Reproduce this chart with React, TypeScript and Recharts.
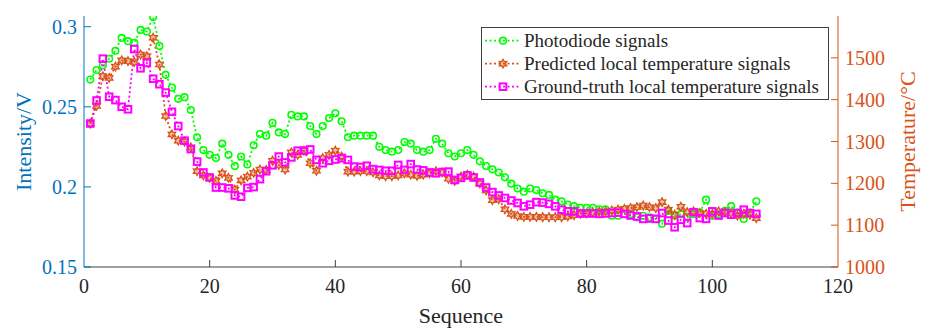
import React from 'react';
import { LineChart, Line, XAxis, YAxis } from 'recharts';

const sequence = [
  1, 2, 3, 4, 5, 6, 7, 8, 9, 10, 11, 12, 13, 14, 15, 16, 17, 18, 19, 20,
  21, 22, 23, 24, 25, 26, 27, 28, 29, 30, 31, 32, 33, 34, 35, 36, 37, 38, 39, 40,
  41, 42, 43, 44, 45, 46, 47, 48, 49, 50, 51, 52, 53, 54, 55, 56, 57, 58, 59, 60,
  61, 62, 63, 64, 65, 66, 67, 68, 69, 70, 71, 72, 73, 74, 75, 76, 77, 78, 79, 80,
  81, 82, 83, 84, 85, 86, 87, 88, 89, 90, 91, 92, 93, 94, 95, 96, 97, 98, 99, 100,
  101, 102, 103, 104, 105, 106, 107,
];

// Photodiode intensity (V), left axis
const photodiode = [
  0.267, 0.273, 0.276, 0.280, 0.285, 0.293, 0.291, 0.290, 0.298, 0.297,
  0.306, 0.288, 0.270, 0.262, 0.255, 0.256, 0.248, 0.231, 0.223, 0.220,
  0.218, 0.227, 0.220, 0.213, 0.219, 0.214, 0.226, 0.233, 0.232, 0.240,
  0.234, 0.233, 0.245, 0.244, 0.244, 0.238, 0.233, 0.238, 0.243, 0.246,
  0.241, 0.231, 0.232, 0.232, 0.232, 0.232, 0.225, 0.223, 0.222, 0.223,
  0.228, 0.227, 0.223, 0.222, 0.223, 0.230, 0.227, 0.221, 0.219, 0.221,
  0.223, 0.220, 0.216, 0.213, 0.211, 0.209, 0.206, 0.202, 0.199, 0.197,
  0.199, 0.198, 0.196, 0.195, 0.192, 0.191, 0.189, 0.188, 0.187, 0.187,
  0.187, 0.186, 0.186, 0.182, 0.182, 0.183, 0.183, 0.181, 0.182, 0.181,
  0.180, 0.177, 0.185, 0.182, 0.183, 0.181, 0.183, 0.184, 0.192, 0.182,
  0.183, 0.185, 0.188, 0.184, 0.180, 0.184, 0.191,
];

// Predicted local temperature (°C), right axis
const predicted = [
  1343, 1385, 1456, 1452, 1479, 1494, 1492, 1490, 1508, 1504,
  1548, 1484, 1361, 1317, 1302, 1300, 1286, 1229, 1219, 1213,
  1206, 1224, 1213, 1185, 1207, 1216, 1225, 1233, 1232, 1254,
  1244, 1233, 1274, 1268, 1278, 1248, 1230, 1260, 1268, 1278,
  1264, 1228, 1228, 1229, 1229, 1226, 1219, 1217, 1217, 1219,
  1224, 1221, 1218, 1221, 1224, 1229, 1226, 1211, 1206, 1216,
  1221, 1216, 1200, 1183, 1160, 1162, 1138, 1127, 1122, 1120,
  1120, 1120, 1119, 1119, 1119, 1119, 1121, 1124, 1127, 1128,
  1130, 1132, 1133, 1135, 1137, 1139, 1141, 1143, 1147, 1143,
  1141, 1155, 1137, 1125, 1144, 1131, 1133, 1129, 1127, 1127,
  1133, 1131, 1129, 1123, 1127, 1125, 1117,
];

// Ground-truth local temperature (°C), right axis
const groundTruth = [
  1343, 1398, 1498, 1407, 1399, 1383, 1377, 1521, 1475, 1488,
  1450, 1437, 1417, 1371, 1337, 1302, 1282, 1252, 1226, 1214,
  1190, 1190, 1188, 1171, 1168, 1189, 1191, 1210, 1229, 1243,
  1264, 1250, 1262, 1278, 1278, 1281, 1256, 1248, 1254, 1257,
  1260, 1256, 1240, 1239, 1242, 1234, 1232, 1230, 1230, 1244,
  1232, 1246, 1233, 1231, 1226, 1224, 1227, 1228, 1208, 1213,
  1219, 1214, 1202, 1190, 1179, 1171, 1165, 1159, 1153, 1145,
  1149, 1155, 1154, 1151, 1145, 1137, 1133, 1133, 1128, 1128,
  1128, 1127, 1128, 1129, 1130, 1127, 1123, 1121, 1115, 1116,
  1115, 1129, 1111, 1095, 1113, 1105, 1131, 1117, 1115, 1133,
  1123, 1129, 1125, 1129, 1137, 1129, 1127,
];

const xTicks = [0, 20, 40, 60, 80, 100, 120];
const intensityTicks = [0.15, 0.2, 0.25, 0.3];
const temperatureTicks = [1000, 1100, 1200, 1300, 1400, 1500];
const seriesNames = [
  'Photodiode signals',
  'Predicted local temperature signals',
  'Ground-truth local temperature signals',
];
const xLabel = 'Sequence';
const leftLabel = 'Intensity/V';
const rightLabel = 'Temperature/°C';

const data = sequence.map((s, i) => ({
  seq: s,
  pd: photodiode[i],
  pred: predicted[i],
  gt: groundTruth[i],
}));

const FONT = "'Liberation Serif', 'Times New Roman', 'DejaVu Serif', serif";
const BLUE = '#0072BD';
const ORANGE = '#D95319';
const GREEN = '#00FF00';
const MAGENTA = '#FF00FF';
const AXIS = '#404040';
const TEXT = '#262626';

const W = 928;
const H = 330;

const txtStyle = { fontFamily: FONT };

function circleMarker(cx: number, cy: number, key?: any) {
  return <circle key={key} cx={cx} cy={cy} r={3.3} fill="none" stroke={GREEN} strokeWidth={1.6} />;
}
function hexMarker(cx: number, cy: number, key?: any) {
  const pts: string[] = [];
  for (let k = 0; k < 12; k++) {
    const a = ((-90 + k * 30) * Math.PI) / 180;
    const r = k % 2 === 0 ? 4.3 : 2.4;
    pts.push(`${cx + r * Math.cos(a)},${cy + r * Math.sin(a)}`);
  }
  return (
    <polygon key={key} points={pts.join(' ')} fill={ORANGE} fillOpacity={0.35} stroke={ORANGE} strokeWidth={1.3} />
  );
}
function squareMarker(cx: number, cy: number, key?: any) {
  return (
    <rect key={key} x={cx - 3.3} y={cy - 3.3} width={6.6} height={6.6} fill="none" stroke={MAGENTA} strokeWidth={2} />
  );
}

const makeDot = (fn: (cx: number, cy: number, key?: any) => any) => (p: any) => {
  if (p.cx == null || p.cy == null) return <g key={`e-${p.index}`} />;
  return fn(p.cx, p.cy, `d-${p.index}`);
};

const BottomTick = (p: any) => {
  const { x, y, payload } = p;
  const edge = payload.value === 0 || payload.value === 120;
  return (
    <g>
      {!edge && <line x1={x} y1={y} x2={x} y2={y - 7} stroke={AXIS} strokeWidth={1} />}
      <text x={x} y={y + 26} textAnchor="middle" fontSize={20} fill={TEXT} style={txtStyle}>
        {payload.value}
      </text>
    </g>
  );
};

const TopTick = (p: any) => {
  const { x, y, payload } = p;
  const edge = payload.value === 0 || payload.value === 120;
  if (edge) return <g />;
  return <line x1={x} y1={y} x2={x} y2={y + 7} stroke={AXIS} strokeWidth={1} />;
};

const LeftTick = (p: any) => {
  const { x, y, payload } = p;
  return (
    <g>
      <line x1={x} y1={y} x2={x + 7} y2={y} stroke={BLUE} strokeWidth={1} />
      <text x={x - 7} y={y} dy="0.35em" textAnchor="end" fontSize={20} fill={BLUE} style={txtStyle}>
        {String(payload.value)}
      </text>
    </g>
  );
};

const RightTick = (p: any) => {
  const { x, y, payload } = p;
  return (
    <g>
      <line x1={x} y1={y} x2={x - 7} y2={y} stroke={ORANGE} strokeWidth={1} />
      <text x={x + 7} y={y} dy="0.35em" textAnchor="start" fontSize={20} fill={ORANGE} style={txtStyle}>
        {String(payload.value)}
      </text>
    </g>
  );
};

const leftAxisLabel = (props: any) => {
  const vb = props.viewBox || {};
  const cx = vb.x + 23;
  const cy = vb.y + vb.height / 2;
  return (
    <text x={cx} y={cy} transform={`rotate(-90 ${cx} ${cy})`} textAnchor="middle" dy="0.35em" fontSize={22} fill={BLUE} style={txtStyle}>
      {leftLabel}
    </text>
  );
};

const rightAxisLabel = (props: any) => {
  const vb = props.viewBox || {};
  const cx = vb.x + 69;
  const cy = vb.y + vb.height / 2;
  return (
    <text x={cx} y={cy} transform={`rotate(-90 ${cx} ${cy})`} textAnchor="middle" dy="0.35em" fontSize={22} fill={ORANGE} style={txtStyle}>
      {rightLabel}
    </text>
  );
};

const bottomAxisLabel = (props: any) => {
  const vb = props.viewBox || {};
  const cx = vb.x + vb.width / 2;
  const cy = vb.y + 48;
  return (
    <text x={cx} y={cy} textAnchor="middle" dy="0.35em" fontSize={22} fill={TEXT} style={txtStyle}>
      {xLabel}
    </text>
  );
};

const legendMarkers = [circleMarker, hexMarker, squareMarker];
const legendColors = [GREEN, ORANGE, MAGENTA];

const LegendBox = () => (
  <svg
    width={349}
    height={74}
    style={{ position: 'absolute', left: 481, top: 27, overflow: 'visible' }}
  >
    <rect x={0.5} y={0.5} width={347} height={72} fill="#ffffff" stroke={AXIS} strokeWidth={1} />
    {seriesNames.map((name, i) => {
      const cy = 13.7 + i * 23;
      return (
        <g key={name}>
          <line x1={4} y1={cy} x2={39} y2={cy} stroke={legendColors[i]} strokeWidth={1.8} strokeDasharray="2 2.5" />
          {legendMarkers[i](22, cy)}
          <text x={43} y={cy} dy="0.35em" fontSize={19} fill={TEXT} style={txtStyle}>
            {name}
          </text>
        </g>
      );
    })}
  </svg>
);

export default function App() {
  return (
    <div style={{ position: 'absolute', left: 0, top: 0, width: W, height: H, background: '#fff', fontFamily: FONT }}>
      <LineChart width={W} height={H} data={data} margin={{ top: 16, right: 0, bottom: 0, left: 0 }}>
        <XAxis
          xAxisId="x"
          dataKey="seq"
          type="number"
          domain={[0, 120]}
          ticks={xTicks}
          height={63}
          tickSize={0}
          tickMargin={0}
          tickLine={false}
          axisLine={{ stroke: AXIS, strokeWidth: 1 }}
          tick={BottomTick}
          interval={0}
          label={bottomAxisLabel}
        />
        <XAxis
          xAxisId="top"
          orientation="top"
          dataKey="seq"
          type="number"
          domain={[0, 120]}
          ticks={xTicks}
          height={0}
          tickSize={0}
          tickMargin={0}
          tickLine={false}
          axisLine={{ stroke: AXIS, strokeWidth: 1 }}
          tick={TopTick}
          interval={0}
        />
        <YAxis
          yAxisId="left"
          orientation="left"
          type="number"
          domain={[0.15, 0.3067]}
          ticks={intensityTicks}
          allowDataOverflow
          width={84}
          tickSize={0}
          tickMargin={0}
          tickLine={false}
          axisLine={{ stroke: BLUE, strokeWidth: 1 }}
          tick={LeftTick}
          interval={0}
          label={leftAxisLabel}
        />
        <YAxis
          yAxisId="right"
          orientation="right"
          type="number"
          domain={[1000, 1600]}
          ticks={temperatureTicks}
          allowDataOverflow
          width={90}
          tickSize={0}
          tickMargin={0}
          tickLine={false}
          axisLine={{ stroke: ORANGE, strokeWidth: 1 }}
          tick={RightTick}
          interval={0}
          label={rightAxisLabel}
        />
        <Line
          xAxisId="x"
          yAxisId="left"
          dataKey="pd"
          name={seriesNames[0]}
          stroke={GREEN}
          strokeWidth={1.8}
          strokeDasharray="2 2.5"
          dot={makeDot(circleMarker)}
          activeDot={false}
          isAnimationActive={false}
        />
        <Line
          xAxisId="x"
          yAxisId="right"
          dataKey="pred"
          name={seriesNames[1]}
          stroke={ORANGE}
          strokeWidth={1.8}
          strokeDasharray="2 2.5"
          dot={makeDot(hexMarker)}
          activeDot={false}
          isAnimationActive={false}
        />
        <Line
          xAxisId="x"
          yAxisId="right"
          dataKey="gt"
          name={seriesNames[2]}
          stroke={MAGENTA}
          strokeWidth={1.8}
          strokeDasharray="2 2.5"
          dot={makeDot(squareMarker)}
          activeDot={false}
          isAnimationActive={false}
        />
      </LineChart>
      <LegendBox />
    </div>
  );
}
